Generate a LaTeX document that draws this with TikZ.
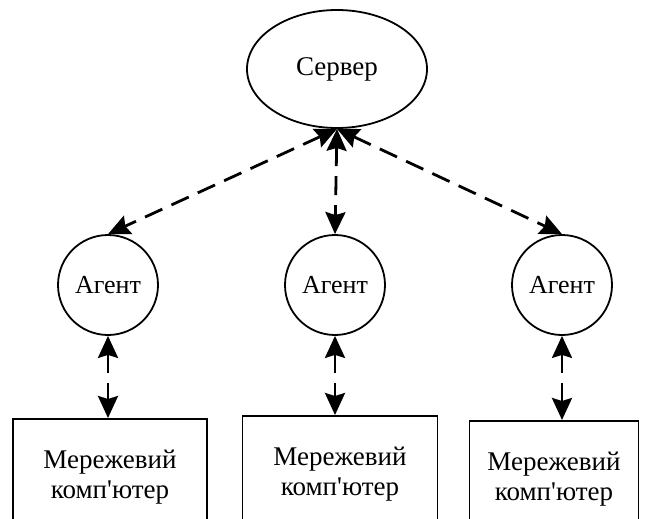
\documentclass[tikz,border=0pt]{standalone}
\usepackage{fontspec}
\setmainfont{Liberation Serif}
\usetikzlibrary{shapes.geometric,arrows.meta}
\tikzset{
    link/.style={{Stealth[length=22pt,width=20pt,inset=3pt]}-{Stealth[length=22pt,width=20pt,inset=3pt]}, line width=2.8pt, dash pattern=on 19pt off 10pt},
    agent/.style={circle, draw, line width=1.8pt, minimum size=100pt, inner sep=0pt, font=\fontsize{26}{30}\selectfont},
    pc/.style={rectangle, draw, line width=1.8pt, anchor=north, minimum height=116pt, align=center, font=\fontsize{27}{30}\selectfont}
}
\begin{document}
\begin{tikzpicture}[x=1pt,y=-1pt]
        \useasboundingbox[fill=white] (0,0) rectangle (648,519);
        \clip (0,0) rectangle (648,519);
        \node[ellipse,draw,line width=1.8pt,minimum width=180pt,minimum height=118pt,inner sep=0pt,font=\fontsize{27}{30}\selectfont] (server) at (337, 69) {Сервер};
        \node[agent] (agent1) at (108, 285) {Агент};
        \node[agent] (agent2) at (335, 285) {Агент};
        \node[agent] (agent3) at (562, 285) {Агент};
        \node[pc, minimum width=194pt] (pc1) at (110, 418) {Мережевий\\комп\textquotesingle ютер};
        \node[pc, minimum width=195pt] (pc2) at (340, 415) {Мережевий\\комп\textquotesingle ютер};
        \node[pc, minimum width=169pt] (pc3) at (554, 420) {Мережевий\\комп\textquotesingle ютер};
        \draw[link] (server.south) -- (agent1.north);
        \draw[link] (server.south) -- (agent2.north);
        \draw[link] (server.south) -- (agent3.north);
        \draw[link] (agent1.south) -- (agent1.south |- pc1.north);
        \draw[link] (agent2.south) -- (agent2.south |- pc2.north);
        \draw[link] (agent3.south) -- (agent3.south |- pc3.north);
    \end{tikzpicture}
\end{document}
